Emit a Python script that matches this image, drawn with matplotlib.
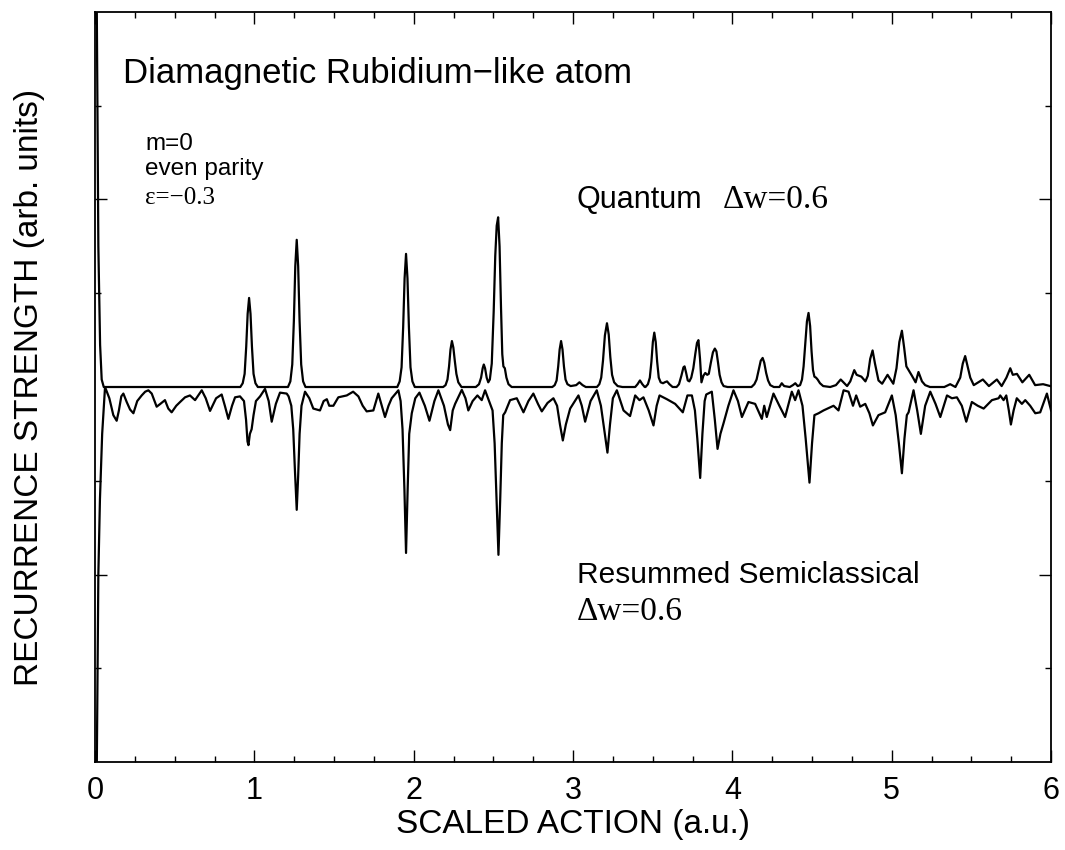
import numpy as np
import matplotlib
matplotlib.use("Agg")
import matplotlib.pyplot as plt
from matplotlib.ticker import MultipleLocator, FixedLocator

# quantum recurrence spectrum (upper trace)
quantum_x = [0.011, 0.021, 0.032, 0.042, 0.055,
             0.912, 0.927, 0.939, 0.949, 0.958, 0.967, 0.976, 0.985, 0.995,
             1.007, 1.022,
             1.211, 1.226, 1.238, 1.248, 1.257, 1.266, 1.275, 1.284, 1.294,
             1.306, 1.321,
             1.897, 1.912, 1.924, 1.934, 1.943, 1.952, 1.961, 1.970, 1.980,
             1.992, 2.007,
             2.185, 2.2, 2.212, 2.222, 2.231, 2.24, 2.249, 2.258, 2.268, 2.28,
             2.3,
             2.39, 2.41, 2.423, 2.433, 2.44, 2.448, 2.458, 2.468, 2.478, 2.49,
             2.502, 2.512, 2.521, 2.53, 2.539, 2.548, 2.556, 2.563, 2.572,
             2.582, 2.595, 2.615,
             2.87, 2.885, 2.897, 2.907, 2.916, 2.925, 2.934, 2.943, 2.953,
             2.965, 2.985, 3.02, 3.04, 3.06, 3.08,
             3.15, 3.165, 3.177, 3.188, 3.2, 3.213, 3.224, 3.234, 3.245, 3.258,
             3.28, 3.31,
             3.39, 3.405, 3.42, 3.435, 3.45,
             3.455, 3.47, 3.482, 3.492, 3.501, 3.51, 3.519, 3.528, 3.538, 3.55,
             3.565, 3.575, 3.59, 3.605, 3.625,
             3.65, 3.665, 3.68, 3.693, 3.70, 3.71, 3.72, 3.73, 3.742, 3.755,
             3.768, 3.778, 3.787, 3.797, 3.806, 3.818, 3.83, 3.842, 3.852,
             3.865, 3.878, 3.89, 3.9, 3.91, 3.92, 3.932, 3.945, 3.97,
             4.12, 4.138, 4.152, 4.165, 4.178, 4.19, 4.2, 4.212, 4.224, 4.238,
             4.26, 4.295, 4.31, 4.325, 4.36, 4.38, 4.395, 4.41, 4.425, 4.437,
             4.447, 4.457, 4.468, 4.478, 4.488, 4.497, 4.506, 4.515, 4.525,
             4.535, 4.55, 4.57, 4.614,
             4.65, 4.68, 4.72, 4.74, 4.765, 4.78, 4.81, 4.835, 4.85, 4.865,
             4.88, 4.895, 4.917, 4.94, 4.974, 5.01, 5.03, 5.048, 5.064, 5.078,
             5.092, 5.106, 5.127, 5.15, 5.168, 5.19, 5.21, 5.24,
             5.33, 5.367, 5.4, 5.43, 5.446, 5.461, 5.476, 5.493, 5.515, 5.572,
             5.61, 5.66, 5.69, 5.72, 5.744, 5.76, 5.786, 5.82, 5.863, 5.9,
             5.95, 5.995]
quantum_y = [4.1, 1.5, 0.45, 0.08, 0.0,
             0.0, 0.04, 0.14, 0.43, 0.78, 0.95, 0.78, 0.43, 0.14,
             0.04, 0.0,
             0.0, 0.06, 0.24, 0.7, 1.29, 1.57, 1.29, 0.7, 0.24,
             0.06, 0.0,
             0.0, 0.06, 0.21, 0.64, 1.16, 1.42, 1.16, 0.64, 0.21,
             0.06, 0.0,
             0.0, 0.02, 0.08, 0.22, 0.4, 0.49, 0.42, 0.28, 0.14, 0.05,
             0.0,
             0.0, 0.03, 0.1, 0.2, 0.24, 0.2, 0.1, 0.05, 0.08, 0.25,
             0.8, 1.4, 1.72, 1.81, 1.5, 0.85, 0.35, 0.22, 0.2,
             0.1, 0.03, 0.0,
             0.0, 0.02, 0.07, 0.22, 0.4, 0.49, 0.4, 0.22, 0.08,
             0.03, 0.01, 0.02, 0.05, 0.02, 0.0,
             0.0, 0.03, 0.1, 0.28, 0.55, 0.68, 0.56, 0.32, 0.13, 0.05,
             0.01, 0.0,
             0.0, 0.03, 0.07, 0.03, 0.0,
             0.0, 0.03, 0.1, 0.27, 0.48, 0.58, 0.48, 0.27, 0.1, 0.05,
             0.04, 0.05, 0.06, 0.03, 0.0,
             0.0, 0.03, 0.12, 0.21, 0.22, 0.15, 0.07, 0.06, 0.1, 0.2,
             0.36, 0.47, 0.5, 0.3, 0.05, 0.12, 0.15, 0.13, 0.14,
             0.26, 0.37, 0.41, 0.38, 0.26, 0.13, 0.05, 0.01, 0.0,
             0.0, 0.03, 0.08, 0.18, 0.28, 0.31, 0.26, 0.15, 0.07, 0.02,
             0.0, 0.0, 0.04, 0.01, 0.0, 0.02, 0.04, 0.01, 0.02, 0.08,
             0.22, 0.45, 0.7, 0.79, 0.65, 0.38, 0.18, 0.11, 0.1,
             0.08, 0.04, 0.01, 0.0,
             0.02, 0.08, 0.01, 0.06, 0.18, 0.13, 0.11, 0.06, 0.12, 0.3,
             0.39, 0.25, 0.07, 0.035, 0.13, 0.035, 0.2, 0.48, 0.6, 0.42,
             0.22, 0.18, 0.12, 0.05, 0.16, 0.06, 0.02, 0.0,
             0.0, 0.03, 0.0, 0.1, 0.25, 0.33, 0.22, 0.1, 0.02, 0.08,
             0.01, 0.08, 0.01, 0.1, 0.2, 0.13, 0.14, 0.05, 0.13, 0.02,
             0.03, 0.01]

# resummed semiclassical spectrum (lower trace, drawn inverted)
semi_x = [0.011, 0.016, 0.021, 0.031, 0.045, 0.063, 0.09, 0.115, 0.136,
          0.15, 0.165, 0.178, 0.199, 0.22, 0.241, 0.265, 0.293, 0.315, 0.335,
          0.356, 0.387, 0.41, 0.439, 0.46, 0.481, 0.51, 0.534, 0.565, 0.596,
          0.628, 0.67, 0.695, 0.722, 0.76, 0.795, 0.815, 0.837, 0.86, 0.879,
          0.91, 0.935, 0.948, 0.957, 0.963, 0.972, 0.983, 0.995, 1.01, 1.036,
          1.067, 1.09, 1.109, 1.135, 1.161, 1.203, 1.215, 1.232, 1.244,
          1.255, 1.266, 1.275, 1.284, 1.296, 1.318, 1.345, 1.37, 1.412,
          1.435, 1.455, 1.47, 1.496, 1.527, 1.58, 1.62, 1.653, 1.68, 1.705,
          1.747, 1.778, 1.8, 1.82, 1.842, 1.862, 1.904, 1.918, 1.93, 1.942,
          1.952, 1.962, 1.972, 1.988, 2.01, 2.036, 2.07, 2.099, 2.13, 2.155,
          2.19, 2.215, 2.229, 2.245, 2.26, 2.302, 2.325, 2.343, 2.37, 2.4,
          2.427, 2.448, 2.48, 2.495, 2.508, 2.52, 2.532, 2.543, 2.553, 2.562,
          2.574, 2.605, 2.647, 2.689, 2.72, 2.751, 2.78, 2.804, 2.84, 2.877,
          2.9, 2.918, 2.936, 2.955, 2.982, 3.034, 3.055, 3.076, 3.11, 3.149,
          3.175, 3.2, 3.216, 3.232, 3.25, 3.275, 3.317, 3.358, 3.39, 3.417,
          3.442, 3.475, 3.505, 3.525, 3.543, 3.589, 3.641, 3.689, 3.718,
          3.746, 3.765, 3.78, 3.798, 3.812, 3.826, 3.836, 3.871, 3.89, 3.907,
          3.925, 3.944, 3.975, 4.007, 4.035, 4.06, 4.101, 4.143, 4.185, 4.2,
          4.216, 4.258, 4.295, 4.331, 4.373, 4.394, 4.415, 4.44, 4.46, 4.484,
          4.5, 4.515, 4.541, 4.572, 4.635, 4.666, 4.698, 4.729, 4.757, 4.777,
          4.802, 4.834, 4.86, 4.882, 4.917, 4.959, 5.001, 5.025, 5.045,
          5.064, 5.08, 5.095, 5.106, 5.137, 5.16, 5.183, 5.21, 5.242, 5.275,
          5.305, 5.347, 5.378, 5.409, 5.44, 5.468, 5.503, 5.54, 5.577, 5.629,
          5.671, 5.681, 5.702, 5.719, 5.735, 5.748, 5.765, 5.785, 5.817,
          5.838, 5.869, 5.901, 5.932, 5.974, 6.0]
semi_y = [-4.1, -3.0, -2.0, -1.2, -0.5, 0.0, -0.12, -0.3, -0.36,
          -0.25, -0.1, -0.07, -0.16, -0.24, -0.28, -0.15, -0.09, -0.05, -0.035,
          -0.07, -0.21, -0.18, -0.14, -0.23, -0.27, -0.2, -0.16, -0.11, -0.09,
          -0.14, -0.035, -0.12, -0.255, -0.12, -0.08, -0.2, -0.34, -0.2, -0.11,
          -0.1, -0.15, -0.35, -0.58, -0.62, -0.5, -0.45, -0.3, -0.15, -0.1,
          -0.02, -0.15, -0.37, -0.18, -0.06, -0.07, -0.1, -0.2, -0.45,
          -0.9, -1.31, -0.95, -0.5, -0.2, -0.05, -0.12, -0.23, -0.25,
          -0.15, -0.13, -0.2, -0.2, -0.11, -0.09, -0.05, -0.1, -0.2, -0.26,
          -0.25, -0.07, -0.2, -0.32, -0.2, -0.12, -0.035, -0.15, -0.45, -1.1,
          -1.77, -1.1, -0.5, -0.28, -0.12, -0.06, -0.2, -0.36, -0.15, -0.035,
          -0.2, -0.4, -0.46, -0.25, -0.18, -0.03, -0.12, -0.25, -0.15, -0.09,
          -0.14, -0.035, -0.18, -0.25, -0.6, -1.2, -1.79, -1.2, -0.6, -0.3,
          -0.27, -0.14, -0.12, -0.27, -0.15, -0.07, -0.18, -0.26, -0.17, -0.12,
          -0.2, -0.4, -0.57, -0.4, -0.23, -0.09, -0.2, -0.37, -0.15, -0.035,
          -0.2, -0.5, -0.7, -0.4, -0.12, -0.035, -0.25, -0.31, -0.09, -0.14,
          -0.11, -0.25, -0.41, -0.2, -0.09, -0.13, -0.18, -0.27, -0.09,
          -0.09, -0.25, -0.55, -0.97, -0.5, -0.15, -0.08, -0.05, -0.35, -0.66,
          -0.5, -0.39, -0.2, -0.035, -0.15, -0.32, -0.16, -0.18, -0.34, -0.2,
          -0.32, -0.07, -0.2, -0.32, -0.05, -0.14, -0.035, -0.2, -0.55, -1.02,
          -0.6, -0.3, -0.28, -0.25, -0.2, -0.25, -0.035, -0.05, -0.2, -0.09,
          -0.21, -0.18, -0.28, -0.41, -0.3, -0.27, -0.09, -0.3, -0.6,
          -0.92, -0.55, -0.3, -0.27, -0.035, -0.25, -0.5, -0.2, -0.05, -0.18,
          -0.32, -0.09, -0.12, -0.11, -0.2, -0.37, -0.16, -0.2, -0.23, -0.14,
          -0.12, -0.09, -0.14, -0.09, -0.25, -0.4, -0.25, -0.12, -0.18,
          -0.14, -0.2, -0.28, -0.27, -0.07, -0.25]

x_ticks = [0, 1, 2, 3, 4, 5, 6]

sans = "Liberation Sans"
serif = "Liberation Serif"
plt.rcParams["font.family"] = sans

fig = plt.figure(figsize=(10.65, 8.5), dpi=100)
ax = fig.add_axes([0.0892, 0.1035, 0.8977, 0.8824])

ax.plot(quantum_x, quantum_y, color="black", lw=1.6, solid_joinstyle="round")
ax.plot(semi_x, semi_y, color="black", lw=1.6, solid_joinstyle="round")

ax.set_xlim(0, 6)
ax.set_ylim(-4, 4)

ax.xaxis.set_major_locator(FixedLocator(x_ticks))
ax.xaxis.set_minor_locator(MultipleLocator(0.25))
ax.yaxis.set_major_locator(FixedLocator([-2, 2]))
ax.yaxis.set_minor_locator(FixedLocator([-3, -1, 1, 3]))
ax.tick_params(which="both", direction="in", top=True, right=True,
               width=1.0, color="black")
ax.tick_params(which="major", length=8.5)
ax.tick_params(which="minor", length=4.3)
ax.tick_params(axis="x", labelsize=22, pad=10)
ax.set_yticklabels([])
for s in ax.spines.values():
    s.set_linewidth(1.3)

ax.set_xlabel("SCALED ACTION (a.u.)", fontsize=24, labelpad=2)
ax.set_ylabel("RECURRENCE STRENGTH (arb. units)", fontsize=24)
ax.yaxis.set_label_coords(-0.052, 0.5)

ax.text(0.0293, 0.905, "Diamagnetic Rubidium\u2212like atom", transform=ax.transAxes,
        fontsize=25, va="baseline", ha="left")
ax.text(0.0523, 0.816, "m=0", transform=ax.transAxes, fontsize=17.5,
        va="baseline")
ax.text(0.0523, 0.7827, "even parity", transform=ax.transAxes, fontsize=17.5,
        va="baseline")
ax.text(0.0523, 0.744, "\u03b5=\u22120.3", transform=ax.transAxes, fontsize=18,
        va="baseline", family=serif)

ax.text(0.504, 0.7387, "Quantum", transform=ax.transAxes, fontsize=22,
        va="baseline")
ax.text(0.657, 0.7387, "\u0394w=0.6", transform=ax.transAxes, fontsize=24,
        va="baseline", family=serif)
ax.text(0.504, 0.2387, "Resummed Semiclassical", transform=ax.transAxes,
        fontsize=21.5, va="baseline")
ax.text(0.504, 0.1893, "\u0394w=0.6", transform=ax.transAxes, fontsize=24,
        va="baseline", family=serif)

fig.savefig("out.png", dpi=100)
